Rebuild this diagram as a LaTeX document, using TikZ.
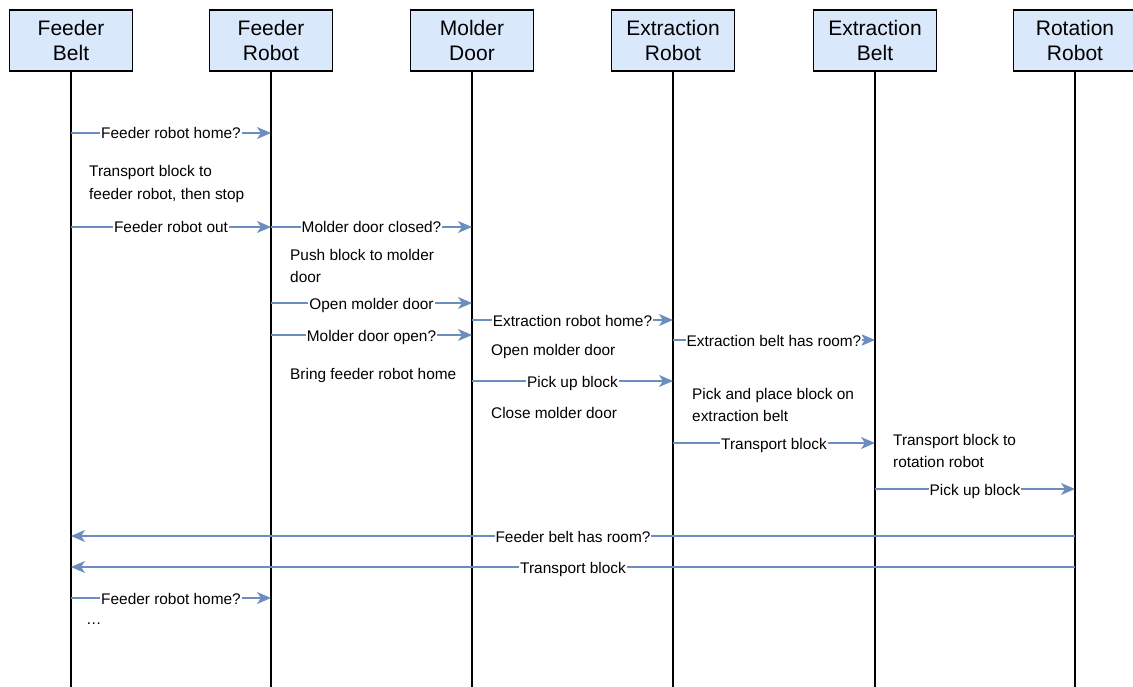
\documentclass[tikz,border=0pt]{standalone}
\usepackage{fontspec}
\setmainfont{Liberation Sans}
\usetikzlibrary{arrows.meta}
\definecolor{lanefill}{HTML}{DAE8FC}
\definecolor{msgblue}{HTML}{6C8EBF}
\tikzset{
  actor/.style={draw=black, fill=lanefill, line width=1.2pt, minimum width=123pt,
    minimum height=61pt, inner sep=0pt, align=center, font=\fontsize{21}{25}\selectfont},
  lifeline/.style={draw=black, line width=1.2pt},
  msg/.style={draw=msgblue, line width=1.3pt, -{Stealth[length=14pt,width=12pt,inset=4pt]}},
  lbl/.style={fill=white, inner xsep=1pt, inner ysep=0pt, text height=12pt, text depth=0pt,
    font=\fontsize{15.4}{22}\selectfont},
  note/.style={anchor=north west, inner sep=0pt, align=left, font=\fontsize{15.4}{22.5}\selectfont},
}
% message from lifeline #1 to lifeline #2 at height #3 with text #4
\newcommand\seqmsg[5]{\draw[msg] (#1 |- 0,#3) coordinate (#5s) -- node[lbl] (#5l) {#4} (#2 |- 0,#3) coordinate (#5e);}
\begin{document}
\begin{tikzpicture}[x=1pt,y=-1pt]
\useasboundingbox (0,0) rectangle (1133,687);

% participants
\node[actor] (FB) at (71,40.5)   {Feeder\\Belt};
\node[actor] (FR) at (271,40.5)  {Feeder\\Robot};
\node[actor] (MD) at (472,40.5)  {Molder\\Door};
\node[actor] (ER) at (673,40.5)  {Extraction\\Robot};
\node[actor] (EB) at (875,40.5)  {Extraction\\Belt};
\node[actor] (RR) at (1075,40.5) {Rotation\\Robot};

% lifelines
\foreach \p in {FB,FR,MD,ER,EB,RR}{
  \coordinate (\p end) at (\p.south |- 0,687);
  \draw[lifeline] (\p.south) -- (\p end);
}

% messages
\seqmsg{FB}{FR}{133}{Feeder robot home?}{m1}
\seqmsg{FB}{FR}{227}{Feeder robot out}{m2}
\seqmsg{FR}{MD}{227}{Molder door closed?}{m3}
\seqmsg{FR}{MD}{303}{Open molder door}{m4}
\seqmsg{MD}{ER}{320}{Extraction robot home?}{m5}
\seqmsg{FR}{MD}{335}{Molder door open?}{m6}
\seqmsg{ER}{EB}{340}{Extraction belt has room?}{m7}
\seqmsg{MD}{ER}{381}{Pick up block}{m8}
\seqmsg{ER}{EB}{443}{Transport block}{m9}
\seqmsg{EB}{RR}{489}{Pick up block}{m10}
\seqmsg{RR}{FB}{536}{Feeder belt has room?}{m11}
\seqmsg{RR}{FB}{567}{Transport block}{m12}
\seqmsg{FB}{FR}{598}{Feeder robot home?}{m13}

% actions
\node[note] (n1) at (89,165.5)  {Transport block to\\feeder robot, then stop};
\node[note] (n2) at (290,249) {Push block to molder\\door};
\node[note] (n3) at (491,344) {Open molder door};
\node[note] (n4) at (290,368) {Bring feeder robot home};
\node[note] (n5) at (692,388) {Pick and place block on\\extraction belt};
\node[note] (n6) at (491,407) {Close molder door};
\node[note] (n7) at (893,434) {Transport block to\\rotation robot};
\node[anchor=base west, inner sep=0pt, font=\fontsize{15.4}{22.5}\selectfont] (n8) at (86,624.5) {\ldots};
\end{tikzpicture}
\end{document}
